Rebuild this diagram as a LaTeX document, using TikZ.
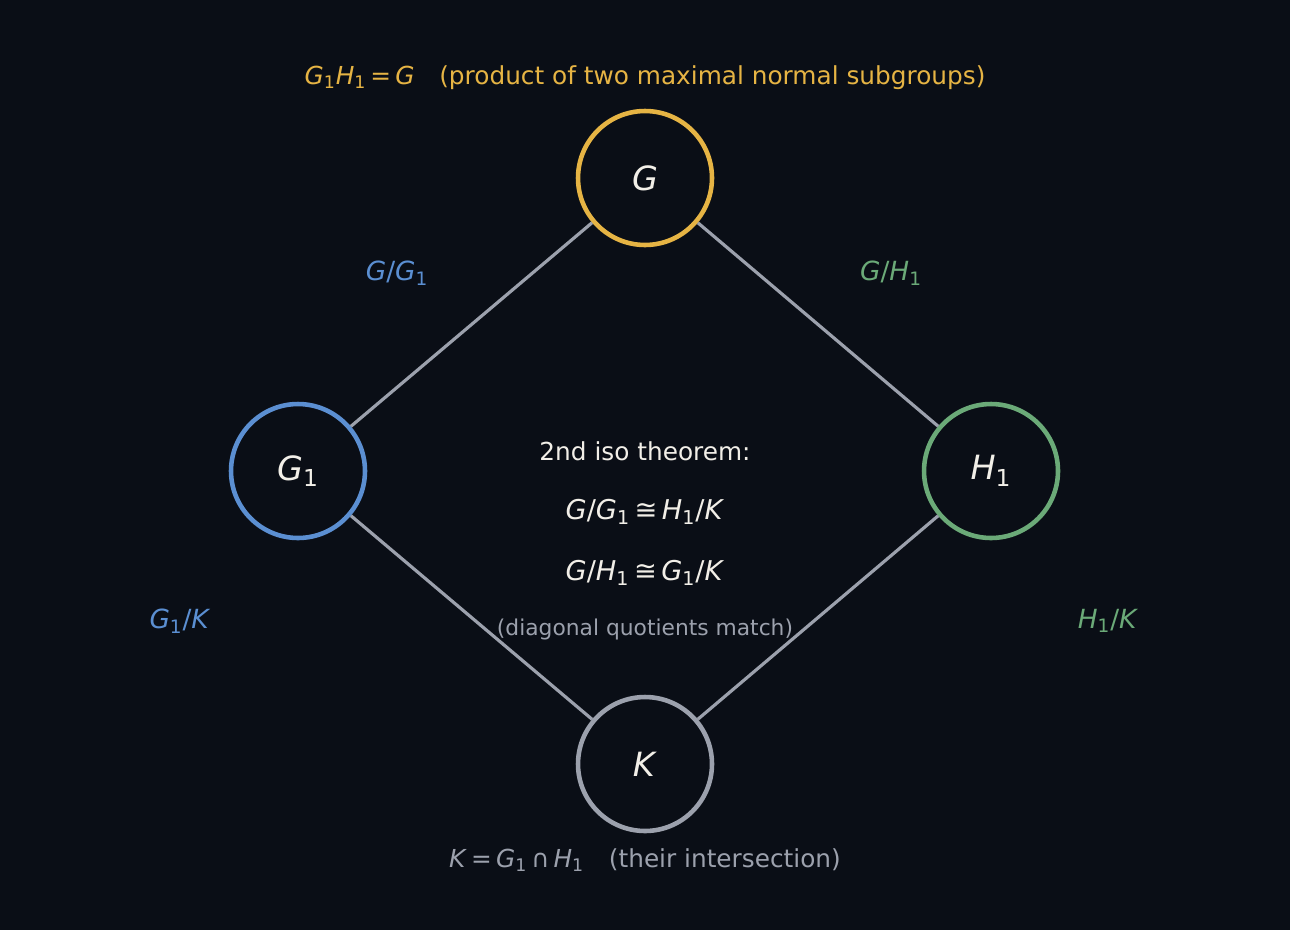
\documentclass[tikz,border=0pt]{standalone}
\usepackage{fontspec}
\setmainfont{DejaVu Sans}
\definecolor{bgdark}{HTML}{0A0E16}
\definecolor{gold}{HTML}{E6B444}
\definecolor{steelblue}{HTML}{5B8FD2}
\definecolor{sage}{HTML}{6BAA78}
\definecolor{ash}{HTML}{9CA1AD}
\definecolor{chalk}{HTML}{F2EFE8}
\newcommand{\mv}[1]{\textit{#1}}
\newcommand{\idx}[1]{\textsubscript{#1}}
\newcommand{\rel}[1]{\,#1\,}
\tikzset{
  group/.style={
    shape = circle,
    draw,
    line width = 2.6pt,
    minimum size = 2.68cm,
    inner sep = 0pt,
    fill = bgdark,
    text = chalk,
    font = \fontsize{19}{22}\selectfont
  },
  quot/.style={
    font = \fontsize{15}{18}\selectfont
  },
  iso/.style={
    font = \fontsize{15.5}{18}\selectfont,
    text = chalk
  },
  caption/.style={
    font = \fontsize{14.1}{17}\selectfont
  },
  link/.style={
    draw = ash,
    line width = 1.8pt
  }
}

\begin{document}
\begin{tikzpicture}[x=0.02cm,y=-0.02cm]
            \fill[bgdark] (0,0) rectangle (1290,930);
            \useasboundingbox (0,0) rectangle (1290,930);
            % the lattice
            \node[group, draw=gold] (g) at (645,178) {\mv{G}};
            \node[group, draw=steelblue] (g1) at (298,471) {\mv{G}\idx{1}};
            \node[group, draw=sage] (h1) at (991,471) {\mv{H}\idx{1}};
            \node[group, draw=ash] (k) at (645,764) {\mv{K}};
            \foreach \a/\b in {g/g1,g/h1,g1/k,h1/k}{
                    \draw[link] (\a) -- (\b);
                }
            % quotients on the edges
            \node[quot, text=steelblue] (qgg) at (397,273) {\mv{G}/\mv{G}\idx{1}};
            \node[quot, text=sage] (qgh) at (891,273) {\mv{G}/\mv{H}\idx{1}};
            \node[quot, text=steelblue] (qgk) at (180,621) {\mv{G}\idx{1}/\mv{K}};
            \node[quot, text=sage] (qhk) at (1108,621) {\mv{H}\idx{1}/\mv{K}};
            % captions
            \node[caption, text=gold] (top) at (645,78) {\mv{G}\idx{1}\mv{H}\idx{1}\rel{=}\mv{G}\quad (product of two maximal normal subgroups)};
            \node[caption, text=ash] (bottom) at (645,860) {\mv{K}\rel{=}\mv{G}\idx{1}\rel{∩}\mv{H}\idx{1}\quad (their intersection)};
            \node[iso, font=\fontsize{14.1}{17}\selectfont] (thm) at (645,451) {2nd iso theorem:};
            \node[iso] (iso1) at (645,512) {\mv{G}/\mv{G}\idx{1}\rel{≅}\mv{H}\idx{1}/\mv{K}};
            \node[iso] (iso2) at (645,573) {\mv{G}/\mv{H}\idx{1}\rel{≅}\mv{G}\idx{1}/\mv{K}};
            \node[font=\fontsize{12.4}{15}\selectfont, text=ash] (note) at (645,629) {(diagonal quotients match)};
        \end{tikzpicture}
\end{document}
